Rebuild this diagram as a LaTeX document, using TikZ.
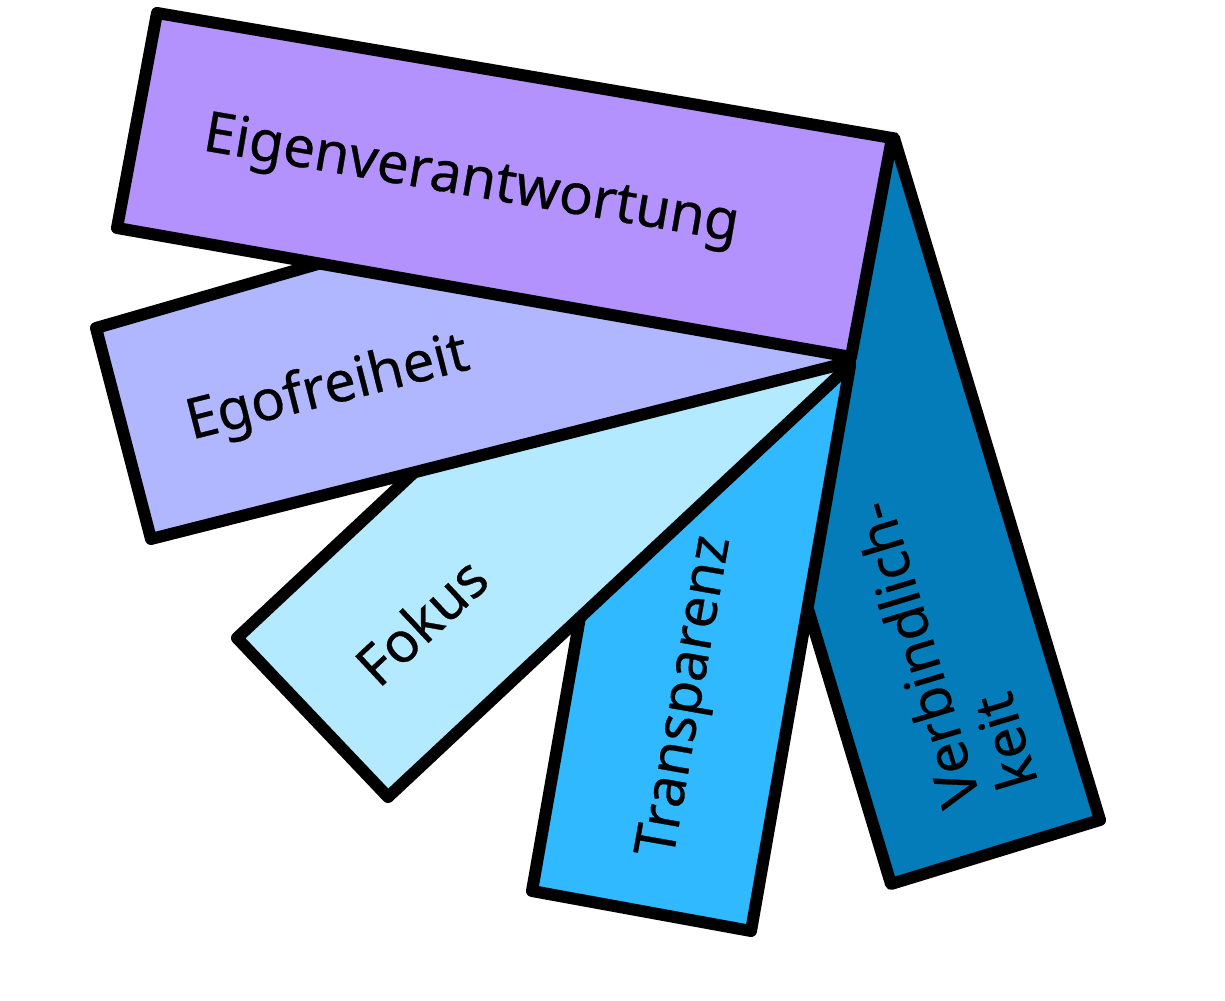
\documentclass[tikz,border=0pt]{standalone}
\usepackage{fontspec}
\setmainfont{Noto Sans}
\newfontfamily\schrift[FakeBold=0.5]{Noto Sans}

\definecolor{eigen}{HTML}{B492FE}
\definecolor{ego}{HTML}{B1B7FF}
\definecolor{fokus}{HTML}{B3EAFF}
\definecolor{transp}{HTML}{30B9FF}
\definecolor{verbind}{HTML}{037CB9}

\tikzset{
  streifen/.style={draw=black,line width=0.12cm,line join=round},
  beschriftung/.style={font=\schrift\fontsize{16}{17}\selectfont,inner sep=0pt}
}

\begin{document}
\begin{tikzpicture}[x=0.01cm,y=-0.01cm]
\useasboundingbox (0,0) rectangle (1225,1001);

% Verbindlichkeit (ganz unten)
\draw[streifen,fill=verbind] (685,202) -- (894,138) -- (1100,820) -- (891,884) -- cycle;
\path (944,646) node[beschriftung,rotate=106.8,align=left] (verb) {Verbindlich-\\keit};

% Transparenz
\draw[streifen,fill=transp] (631,326) -- (850,366) -- (751,931) -- (532,891) -- cycle;
\path (688,697) node[beschriftung,rotate=80] (transp) {Transparenz};

% Fokus
\draw[streifen,fill=fokus] (237,638) -- (699,206) -- (850,365) -- (388,797) -- cycle;
\path (421,621) node[beschriftung,rotate=43.1] (fokus) {Fokus};

% Egofreiheit
\draw[streifen,fill=ego] (96,328) -- (720,148) -- (850,362) -- (151,539) -- cycle;
\path (328,390) node[beschriftung,rotate=14.2] (ego) {Egofreiheit};

% Eigenverantwortung (ganz oben)
\draw[streifen,fill=eigen] (157,13) -- (892,138) -- (851,357) -- (117,228) -- cycle;
\path (471,182) node[beschriftung,rotate=-9.7] (eigen) {Eigenverantwortung};
\end{tikzpicture}
\end{document}
